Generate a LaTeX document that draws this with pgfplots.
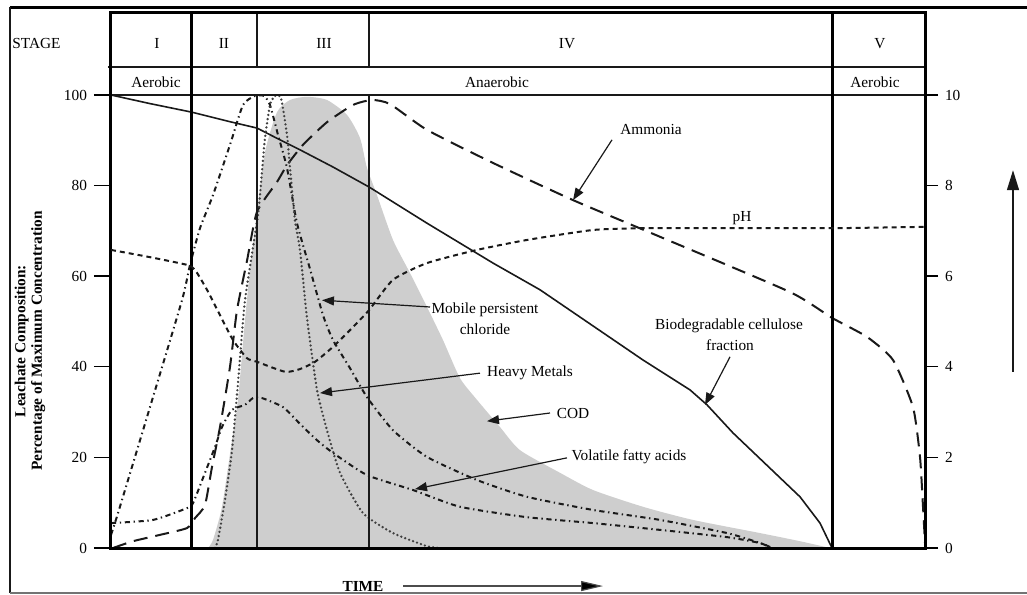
\documentclass[border=0pt]{standalone}
\usepackage{pgfplots}
\pgfplotsset{compat=1.18}
\usepackage{fontspec}
\setmainfont{Liberation Serif}
\usetikzlibrary{arrows.meta}
\definecolor{codgray}{RGB}{206,206,206}
\definecolor{ink}{RGB}{25,25,25}
\newcommand{\lab}{\fontsize{7.7}{9}\selectfont}
\begin{document}
\begin{tikzpicture}
\pgfplotsset{
  common/.style={width=407bp,height=267.5bp,scale only axis,xmin=111,xmax=925,clip=false,
    /pgf/number format/assume math mode=true,
    tick label style={font=\lab},
    tick style={line width=0.7bp,black},
    axis line style={line width=1.5bp,black}},
}
\tikzset{
  amm/.style={ink,line width=1bp,dash pattern=on 7bp off 4bp},
  phs/.style={ink,line width=1bp,dash pattern=on 2.5bp off 2bp},
  dd/.style={ink,line width=1bp,dash pattern=on 2.6bp off 1.8bp on 0.7bp off 1.8bp},
  dots/.style={black!75,line width=1.3bp,line cap=round,dash pattern=on 0pt off 2.1bp},
  arr/.style={ink,line width=0.6bp,-{Triangle[length=6bp,width=4.5bp]}},
  lbl/.style={font=\lab,inner sep=0pt,anchor=center},
}
\begin{axis}[common, ymin=0, ymax=118.1, xtick=\empty,
  ytick={0,20,...,100}, ytick pos=left, tick align=outside,
  major tick length=8.5bp, axis on top]
% COD (shaded)
\addplot[fill=codgray, draw=none, smooth, tension=0.4] coordinates {
 (208,0) (213,1.8) (222,9.1) (232,23.8) (238,32.7) (245,50.3) (250,61.4)
 (257,74.2) (265,87.4) (277,96.2) (290,98.9) (307,99.6) (327,98.9) (347,95.6)
 (360,90.5) (367,83.9) (377,77.9) (393,68.0) (410,60.7) (427,53.2) (443,45.9)
 (460,37.5) (477,32.7) (500,26.7) (520,21.6) (560,16.6) (593,12.8) (643,9.1)
 (693,6.2) (760,3.3) (800,1.5) (830,0)} -- cycle;
% Biodegradable cellulose fraction
\addplot[ink, line width=0.8bp] coordinates {
 (111,100) (150,98.1) (192,96.2) (230,94.1) (257,92.7) (280,90.1) (300,87.9)
 (333,84.1) (369,79.7) (427,71.7) (493,62.9) (540,57.0) (643,41.5) (690,34.9)
 (707,31.6) (733,25.4) (800,11.3) (820,5.5) (832,0)};
% Ammonia
\addplot[amm, smooth, tension=0.35] coordinates {
 (113,0) (133,1.5) (160,2.9) (187,4.4) (195,6.6) (205,9.5) (212,17.9) (220,26.7)
 (230,40.0) (237,52.5) (247,63.4) (257,74.2) (277,80.8) (287,84.5) (303,89.0)
 (327,94.0) (353,97.8) (372,98.9) (390,98.0) (427,92.3) (493,85.0) (573,76.8)
 (660,68.7) (790,56.5) (832,50.8) (867,46.6) (893,41.5) (913,31.1) (920,20.1)
 (923,9.1) (925,1.1)};
% Mobile persistent chloride
\addplot[dd, smooth, tension=0.35] coordinates {
 (111,2.9) (118,7.7) (150,31.1) (182,54.7) (190,62.5) (200,70.6) (213,77.9)
 (230,89.0) (243,97.8) (255,99.8) (264,99.8) (270,97.8) (278,91.2) (287,83.9)
 (297,71.7) (310,61.6) (323,51.4) (333,45.9) (350,39.7) (367,33.3) (393,26.0)
 (427,20.1) (477,15.0) (527,11.3) (593,8.4) (660,6.2) (727,3.3) (760,1.1) (770,0.2)};
% Heavy metals
\addplot[dots, smooth, tension=0.35] coordinates {
 (215,0) (218,1.8) (225,10.6) (232,21.6) (238,36.4) (245,54.7) (258,73.5)
 (262,83.2) (265,90.5) (270,97.8) (275,99.8) (281,99.3) (287,91.2) (290,83.9)
 (295,72.2) (300,65.8) (307,50.8) (317,34.9) (327,26.0) (340,16.6) (363,7.7)
 (393,3.3) (427,0.4) (440,0)};
% Volatile fatty acids
\addplot[dd, smooth, tension=0.35] coordinates {
 (111,5.5) (153,6.2) (187,8.8) (193,9.9) (205,16.6) (215,22.3) (222,26.7)
 (232,30.5) (245,31.6) (253,33.1) (262,33.1) (283,31.1) (300,27.4) (317,23.8)
 (333,21.0) (367,16.1) (413,12.8) (460,9.1) (527,6.8) (593,5.5) (660,4.0)
 (727,2.4) (760,1.1) (770,0.2)};
% table rows and stage dividers
\draw[ink,line width=0.7bp] (axis cs:108,106.2) -- (axis cs:925,106.2);
\draw[ink,line width=0.7bp] (axis cs:108,100) -- (axis cs:925,100);
\draw[black,line width=1.5bp] (axis cs:192,0) -- (axis cs:192,118.1);
\draw[black,line width=1.5bp] (axis cs:832,0) -- (axis cs:832,118.1);
\draw[ink,line width=0.7bp] (axis cs:257,0) -- (axis cs:257,100) (axis cs:257,106.2) -- (axis cs:257,118.1);
\draw[ink,line width=0.7bp] (axis cs:369,0) -- (axis cs:369,100) (axis cs:369,106.2) -- (axis cs:369,118.1);
% header text
\node[lbl] at (axis cs:36.5,111.3) {STAGE};
\node[lbl] at (axis cs:157,111.3) {I};
\node[lbl] at (axis cs:224,111.3) {II};
\node[lbl] at (axis cs:324,111.3) {III};
\node[lbl] at (axis cs:567,111.3) {IV};
\node[lbl] at (axis cs:880,111.3) {V};
\node[lbl] at (axis cs:156,102.9) {Aerobic};
\node[lbl] at (axis cs:497,102.9) {Anaerobic};
\node[lbl] at (axis cs:875,102.9) {Aerobic};
% annotations
\node[lbl] at (axis cs:651,92.3) {Ammonia};
\draw[arr] (axis cs:612,90.1) -- (axis cs:573,76.8);
\node[lbl] at (axis cs:742,72.8) {pH};
\node[lbl] at (axis cs:485,52.5) {Mobile persistent};
\node[lbl] at (axis cs:485,48.3) {chloride};
\draw[arr] (axis cs:430,53.2) -- (axis cs:322,54.7);
\node[lbl] at (axis cs:530,38.6) {Heavy Metals};
\draw[arr] (axis cs:480,38.6) -- (axis cs:320,34.2);
\node[lbl] at (axis cs:573,29.8) {COD};
\draw[arr] (axis cs:550,29.8) -- (axis cs:487,28.0);
\node[lbl] at (axis cs:629,20.1) {Volatile fatty acids};
\draw[arr] (axis cs:567,19.9) -- (axis cs:415,13.0);
\node[lbl] at (axis cs:729,49.0) {Biodegradable cellulose};
\node[lbl] at (axis cs:730,44.8) {fraction};
\draw[arr] (axis cs:730,42.2) -- (axis cs:705,31.6);
% axis titles
\node[font=\bfseries\fontsize{7.7}{8.2}\selectfont, rotate=90, align=center, inner sep=0pt]
  at (axis cs:30,45.7) {Leachate Composition:\\Percentage of Maximum Concentration};
\node[font=\bfseries\lab, inner sep=0pt] at (axis cs:363,-8.4) {TIME};
\draw[black!70,line width=0.6bp,-{Triangle[length=11bp,width=5bp,fill=black]}] (axis cs:403,-8.4) -- (axis cs:603,-8.4);
\draw[ink,line width=0.7bp,-{Triangle[length=10bp,width=6bp]}] (axis cs:1013,38.9) -- (axis cs:1013,83.4);
% outer frame
\draw[black,line width=1.4bp] (axis cs:10,119.4) -- (axis cs:1027,119.4);
\draw[ink,line width=0.6bp] (axis cs:10,119.4) -- (axis cs:10,-9.93);
\draw[black!55,line width=0.6bp] (axis cs:10,-9.93) -- (axis cs:1027,-9.93);
\coordinate (bbSW) at (axis cs:0,-10.375);
\coordinate (bbNE) at (axis cs:1027,120.97);
\end{axis}
\begin{axis}[common, ymin=0, ymax=11.81, axis x line=none, axis y line*=right,
  ytick={0,2,...,10}, tick align=outside, major tick length=6.5bp]
% pH
\addplot[phs, smooth, tension=0.35] coordinates {
 (111,6.58) (150,6.42) (187,6.25) (195,6.14) (207,5.70) (220,5.14) (233,4.59)
 (247,4.19) (257,4.11) (285,3.89) (300,3.95) (315,4.11) (333,4.44) (350,4.81)
 (369,5.25) (393,5.92) (427,6.29) (477,6.58) (527,6.80) (593,7.02) (643,7.06)
 (700,7.06) (833,7.06) (925,7.09)};
\end{axis}
\pgfresetboundingbox
\path[use as bounding box] (bbSW) rectangle (bbNE);
\end{tikzpicture}
\end{document}
